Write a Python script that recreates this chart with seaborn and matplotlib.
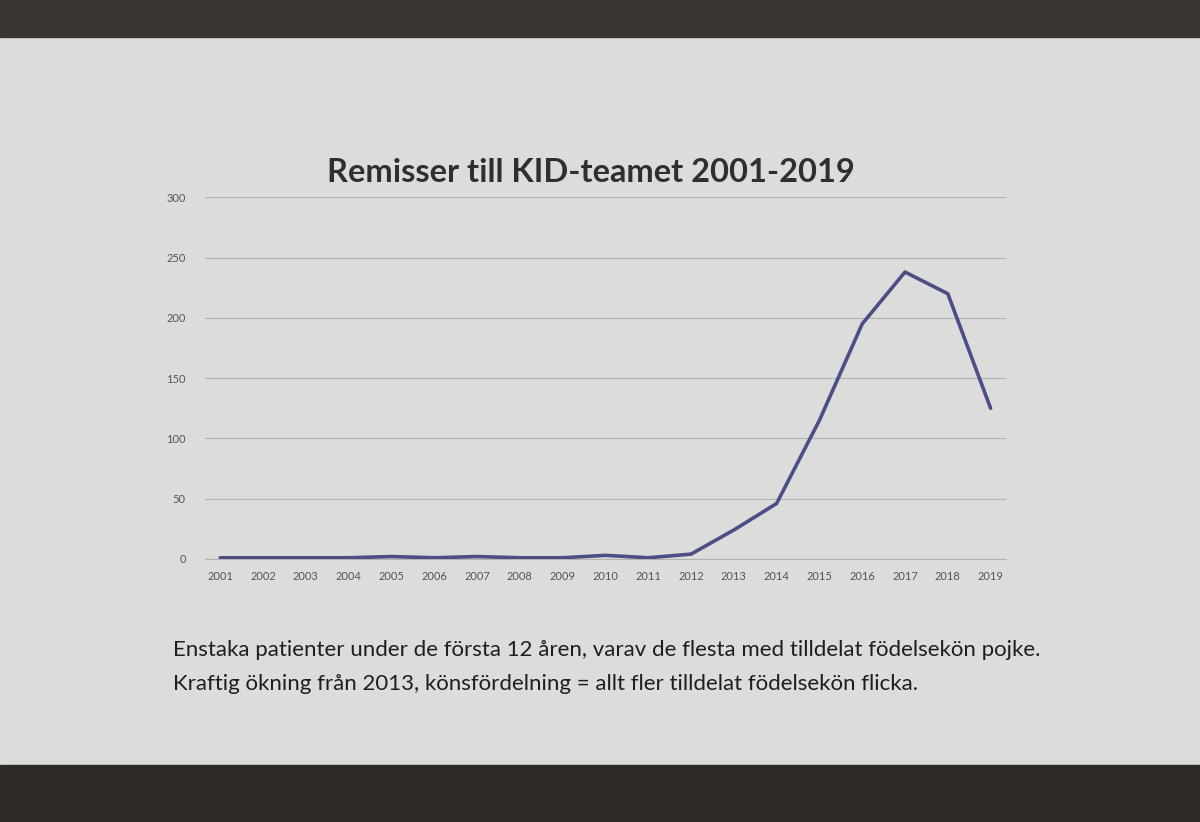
import matplotlib
matplotlib.use("Agg")
import matplotlib.pyplot as plt
import seaborn as sns
import pandas as pd
from matplotlib.patches import Rectangle

# ------------------------
# data
# ------------------------
years = [str(y) for y in range(2001, 2020)]
remisser = [1, 1, 1, 1, 2, 1, 2, 1, 1, 3, 1, 4, 24, 46, 115, 195, 238, 220, 125]
yticks = [0, 50, 100, 150, 200, 250, 300]

title = "Remisser till KID-teamet 2001-2019"
caption = ["Enstaka patienter under de första 12 åren, varav de flesta med tilldelat födelsekön pojke.",
           "Kraftig ökning från 2013, könsfördelning = allt fler tilldelat födelsekön flicka."]

df = pd.DataFrame({"year": years, "n": remisser})

sns.set_theme(style="white")
plt.rcParams['font.family'] = ['Lato', 'DejaVu Sans']

bg = "#dcdddb"
fig = plt.figure(figsize=(12, 8.22), dpi=100, facecolor=bg)

# dark borders of the projection screen
fig.patches.append(Rectangle((0, 0.955), 1, 0.045, transform=fig.transFigure, color="#3a3530", zorder=0))
fig.patches.append(Rectangle((0, 0), 1, 0.069, transform=fig.transFigure, color="#2e2a26", zorder=0))

ax = fig.add_axes([0.171, 0.32, 0.667, 0.44], facecolor=bg)
sns.lineplot(data=df, x="year", y="n", ax=ax, color="#4b4f86", linewidth=2.6, sort=False, zorder=3)

ax.set_xlim(-0.35, len(years) - 0.65)
ax.set_ylim(0, 300)
ax.set_yticks(yticks)
ax.set_yticklabels([str(t) for t in yticks])
ax.yaxis.grid(True, color="#b3b4b2", linewidth=0.8)
ax.xaxis.grid(False)
ax.axhline(0, color="#b3b4b2", linewidth=0.8, zorder=1, clip_on=False)
for s in ax.spines.values():
    s.set_visible(False)
ax.tick_params(axis="both", length=0, labelsize=8, labelcolor="#555555")
ax.tick_params(axis="y", pad=14)
ax.tick_params(axis="x", pad=9)
ax.set_xlabel("")
ax.set_ylabel("")

fig.text(0.492, 0.79, title, ha="center", va="center", fontsize=23.5, fontweight="bold", color="#2f2f2f")
fig.text(0.144, 0.209, caption[0], ha="left", va="center", fontsize=16, color="#1e1e1e")
fig.text(0.144, 0.168, caption[1], ha="left", va="center", fontsize=16, color="#1e1e1e")

fig.savefig("out.png", dpi=100, facecolor=fig.get_facecolor())
